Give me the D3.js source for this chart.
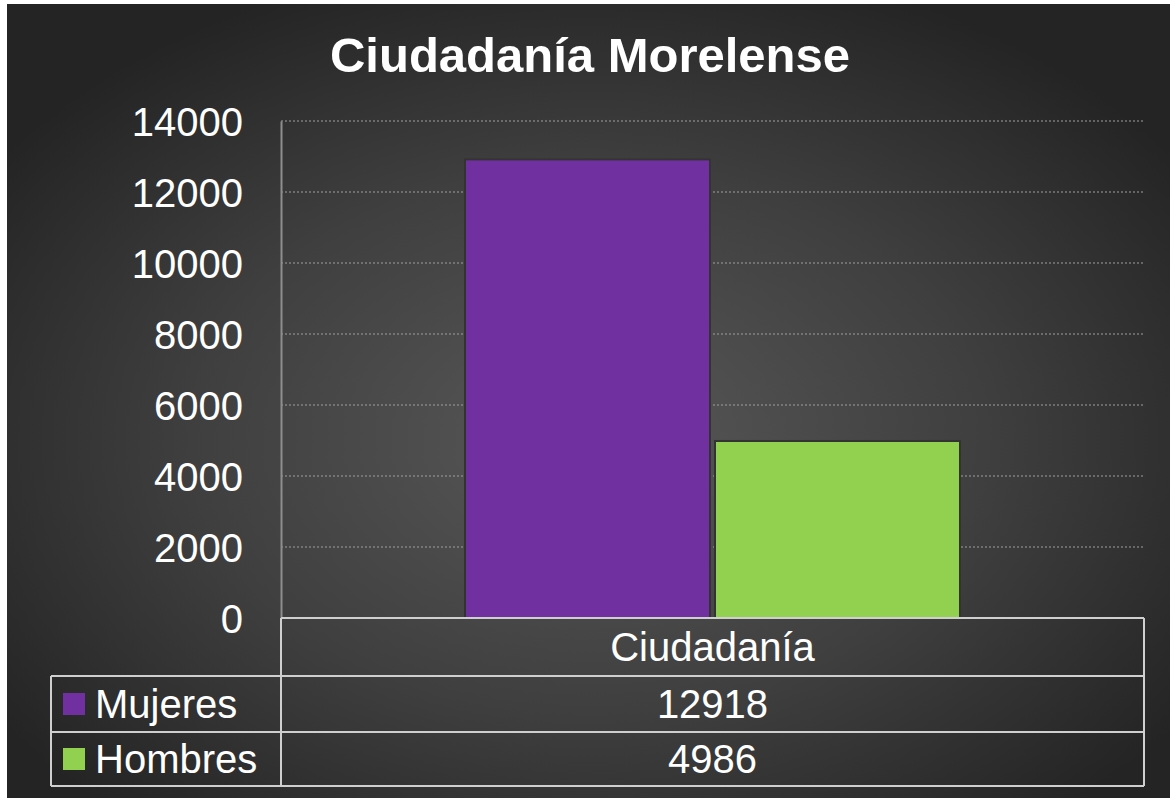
<!DOCTYPE html>
<html>
<head>
<meta charset="utf-8">
<script src="https://cdn.jsdelivr.net/npm/d3@7"></script>
<style>
  html, body { margin: 0; padding: 0; background: #ffffff; }
  svg { display: block; font-family: "Liberation Sans", Arial, sans-serif; }
</style>
</head>
<body>
<svg id="chart" width="1170" height="798"></svg>
<script>
const title = "Ciudadanía Morelense";
const categories = ["Ciudadanía"];
const series = ["Mujeres", "Hombres"];
const values = [12918, 4986];
const colors = ["#7030a0", "#92d050"];
const yTicks = [0, 2000, 4000, 6000, 8000, 10000, 12000, 14000];

var svg = d3.select("#chart"),
  margin = { top: 121, right: 26, bottom: 180, left: 281 },
  width = +svg.attr("width") - margin.left - margin.right,
  height = +svg.attr("height") - margin.top - margin.bottom;

// background with the soft radial glow
var defs = svg.append("defs");
var grad = defs
  .append("radialGradient")
  .attr("id", "bg")
  .attr("cx", "50%")
  .attr("cy", "55%")
  .attr("r", "62%");
grad.append("stop").attr("offset", "0%").attr("stop-color", "#585858");
grad.append("stop").attr("offset", "55%").attr("stop-color", "#3f3f3f");
grad.append("stop").attr("offset", "100%").attr("stop-color", "#242424");

svg
  .append("rect")
  .attr("x", 7)
  .attr("y", 4)
  .attr("width", 1163)
  .attr("height", 794)
  .attr("fill", "url(#bg)");

svg
  .append("text")
  .attr("x", 590)
  .attr("y", 72)
  .attr("text-anchor", "middle")
  .attr("fill", "#ffffff")
  .attr("font-size", 49)
  .attr("font-weight", 700)
  .text(title);

var x0 = d3.scaleBand().domain(categories).range([0, width]).padding(0);
var x1 = d3
  .scaleBand()
  .domain(series)
  .range([0, x0.bandwidth()])
  .paddingInner(0.02)
  .paddingOuter(0.736);
var y = d3.scaleLinear().domain([0, 14000]).range([height, 0]);

var g = svg
  .append("g")
  .attr("transform", "translate(" + margin.left + "," + margin.top + ")");

// dotted gridlines
g.append("g")
  .selectAll("line")
  .data(yTicks.filter((d) => d > 0))
  .enter()
  .append("line")
  .attr("x1", 0)
  .attr("x2", width)
  .attr("y1", (d) => y(d))
  .attr("y2", (d) => y(d))
  .attr("stroke", "#a0a0a0")
  .attr("stroke-width", 1)
  .attr("stroke-dasharray", "2,2");

// y axis
var yAxis = g
  .append("g")
  .attr("class", "axis axis--y")
  .call(
    d3.axisLeft(y).tickValues(yTicks).tickFormat(d3.format("d")).tickSize(0).tickPadding(38)
  );
yAxis.select(".domain").attr("stroke", "#8e8e8e").attr("stroke-width", 2);
yAxis
  .selectAll("text")
  .attr("fill", "#ffffff")
  .attr("font-size", 40)
  .attr("font-family", "Liberation Sans, Arial, sans-serif")
  .attr("dy", "0.36em");

// bars
var rows = series.map((s, i) => ({ name: s, value: values[i], color: colors[i] }));

g.selectAll(".bar")
  .data(rows)
  .enter()
  .append("rect")
  .attr("class", "bar")
  .attr("x", (d) => x0(categories[0]) + x1(d.name))
  .attr("y", (d) => y(d.value))
  .attr("width", x1.bandwidth())
  .attr("height", (d) => height - y(d.value))
  .attr("fill", (d) => d.color)
  .attr("stroke", "#333333")
  .attr("stroke-width", 2);

// data table under the axis
var rowH = [58, 56, 54];
var tableTop = height;
var legendLeft = 51 - margin.left;
var tg = g.append("g").attr("class", "table");

var rowY = [tableTop];
rowH.forEach((h, i) => rowY.push(rowY[i] + h));

tg.append("line")
  .attr("x1", 0)
  .attr("x2", width)
  .attr("y1", rowY[0])
  .attr("y2", rowY[0]);
[1, 2, 3].forEach((i) => {
  tg.append("line")
    .attr("x1", legendLeft)
    .attr("x2", width)
    .attr("y1", rowY[i])
    .attr("y2", rowY[i]);
});
tg.append("line")
  .attr("x1", legendLeft)
  .attr("x2", legendLeft)
  .attr("y1", rowY[1])
  .attr("y2", rowY[3]);
tg.append("line")
  .attr("x1", 0)
  .attr("x2", 0)
  .attr("y1", rowY[0])
  .attr("y2", rowY[3]);
tg.append("line")
  .attr("x1", width)
  .attr("x2", width)
  .attr("y1", rowY[0])
  .attr("y2", rowY[3]);
tg.selectAll("line")
  .attr("stroke", "#cfcfcf")
  .attr("stroke-width", 2);

var cx = x0(categories[0]) + x0.bandwidth() / 2;

tg.append("text")
  .attr("x", cx)
  .attr("y", rowY[0] + rowH[0] / 2)
  .attr("dy", "0.36em")
  .attr("text-anchor", "middle")
  .attr("fill", "#ffffff")
  .attr("font-size", 40)
  .text(categories[0]);

rows.forEach((d, i) => {
  var mid = rowY[i + 1] + rowH[i + 1] / 2;
  tg.append("rect")
    .attr("x", legendLeft + 12)
    .attr("y", mid - 11)
    .attr("width", 22)
    .attr("height", 22)
    .attr("fill", d.color);
  tg.append("text")
    .attr("x", legendLeft + 44)
    .attr("y", mid)
    .attr("dy", "0.36em")
    .attr("fill", "#ffffff")
    .attr("font-size", 40)
    .text(d.name);
  tg.append("text")
    .attr("x", cx)
    .attr("y", mid)
    .attr("dy", "0.36em")
    .attr("text-anchor", "middle")
    .attr("fill", "#ffffff")
    .attr("font-size", 40)
    .text(d.value);
});
</script>
</body>
</html>
